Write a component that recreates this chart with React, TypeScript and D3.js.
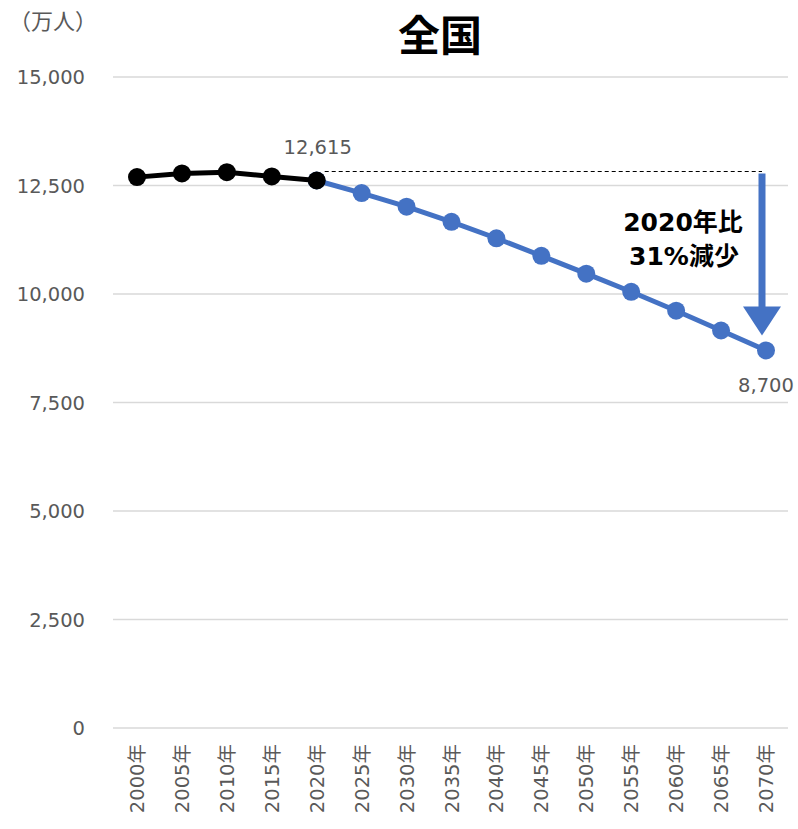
import React from "react";
import * as d3 from "d3";

const years = ["2000年","2005年","2010年","2015年","2020年","2025年","2030年","2035年","2040年","2045年","2050年","2055年","2060年","2065年","2070年"];
const actual = [12693, 12777, 12806, 12709, 12615];
const projected = [12615, 12326, 12012, 11664, 11284, 10880, 10469, 10051, 9615, 9159, 8700];
const yTicks = [0, 2500, 5000, 7500, 10000, 12500, 15000];
const title = "全国";
const unitLabel = "（万人）";
const annotation = ["2020年比", "31%減少"];

const W = 798, H = 829;
const plotLeft = 113, plotRight = 788;
const plotTop = 77, plotBottom = 728;

export default function App() {
  const x = d3.scalePoint<string>().domain(years).range([137, 766]);
  const y = d3.scaleLinear().domain([0, 15000]).range([plotBottom, plotTop]);
  const line = d3.line<[string, number]>().x(d => x(d[0])!).y(d => y(d[1]));
  const actPts: [string, number][] = actual.map((v, i) => [years[i], v]);
  const projPts: [string, number][] = projected.map((v, i) => [years[i + 4], v]);
  const fmt = d3.format(",");
  const font = "'DejaVu Sans', 'Noto Sans CJK JP', sans-serif";
  const gray = "#595959";
  const blue = "#4472C4";
  const last = projPts[projPts.length - 1];
  const first = actPts[actPts.length - 1];
  const dashY = y(first[1]) - 9;
  const arrowX = 762;
  const tipY = y(last[1]) - 15;
  return (
    <svg width={W} height={H} style={{ position: "absolute", left: 0, top: 0, background: "#fff" }} fontFamily={font}>
      <rect width={W} height={H} fill="#fff" />
      <text x={440} y={51} textAnchor="middle" fontSize={42} fontWeight="bold" fill="#000" fontFamily="'Noto Sans CJK JP', sans-serif">{title}</text>
      <text x={9} y={29} fontSize={22} fill={gray} fontFamily="'Noto Sans CJK JP', sans-serif">{unitLabel}</text>
      {yTicks.map(t => (
        <g key={t}>
          <line x1={plotLeft} x2={plotRight} y1={y(t)} y2={y(t)} stroke="#d9d9d9" strokeWidth={1.5} />
          <text x={85} y={y(t)} dy="0.36em" textAnchor="end" fontSize={19.5} fill={gray}>{fmt(t)}</text>
        </g>
      ))}
      {years.map(yr => (
        <text key={yr} transform={`translate(${x(yr)! + 7},744) rotate(-90)`} textAnchor="end" fontSize={19.5} fill={gray}>{yr}</text>
      ))}
      <line x1={x(first[0])! + 8} x2={arrowX} y1={dashY} y2={dashY} stroke="#000" strokeWidth={1} strokeDasharray="4,3" />
      <path d={line(projPts)!} fill="none" stroke={blue} strokeWidth={5} />
      {projPts.map(p => <circle key={p[0]} cx={x(p[0])} cy={y(p[1])} r={9} fill={blue} />)}
      <path d={line(actPts)!} fill="none" stroke="#000" strokeWidth={5} />
      {actPts.map(p => <circle key={p[0]} cx={x(p[0])} cy={y(p[1])} r={9} fill="#000" />)}
      <text x={x(first[0])! + 1} y={y(first[1]) - 27} textAnchor="middle" fontSize={19.5} fill={gray}>{fmt(first[1])}</text>
      <text x={x(last[0])!} y={y(last[1]) + 42} textAnchor="middle" fontSize={19.5} fill={gray}>{fmt(last[1])}</text>
      <rect x={arrowX - 3.5} y={dashY + 2} width={7} height={tipY - 28 - dashY - 2} fill={blue} />
      <path d={`M${arrowX - 19},${tipY - 29} L${arrowX + 19},${tipY - 29} L${arrowX},${tipY} Z`} fill={blue} />
      <text x={683} y={231} textAnchor="middle" fontSize={25} fontWeight="bold" fill="#000">{annotation[0]}</text>
      <text x={684} y={265} textAnchor="middle" fontSize={25} fontWeight="bold" fill="#000">{annotation[1]}</text>
    </svg>
  );
}
